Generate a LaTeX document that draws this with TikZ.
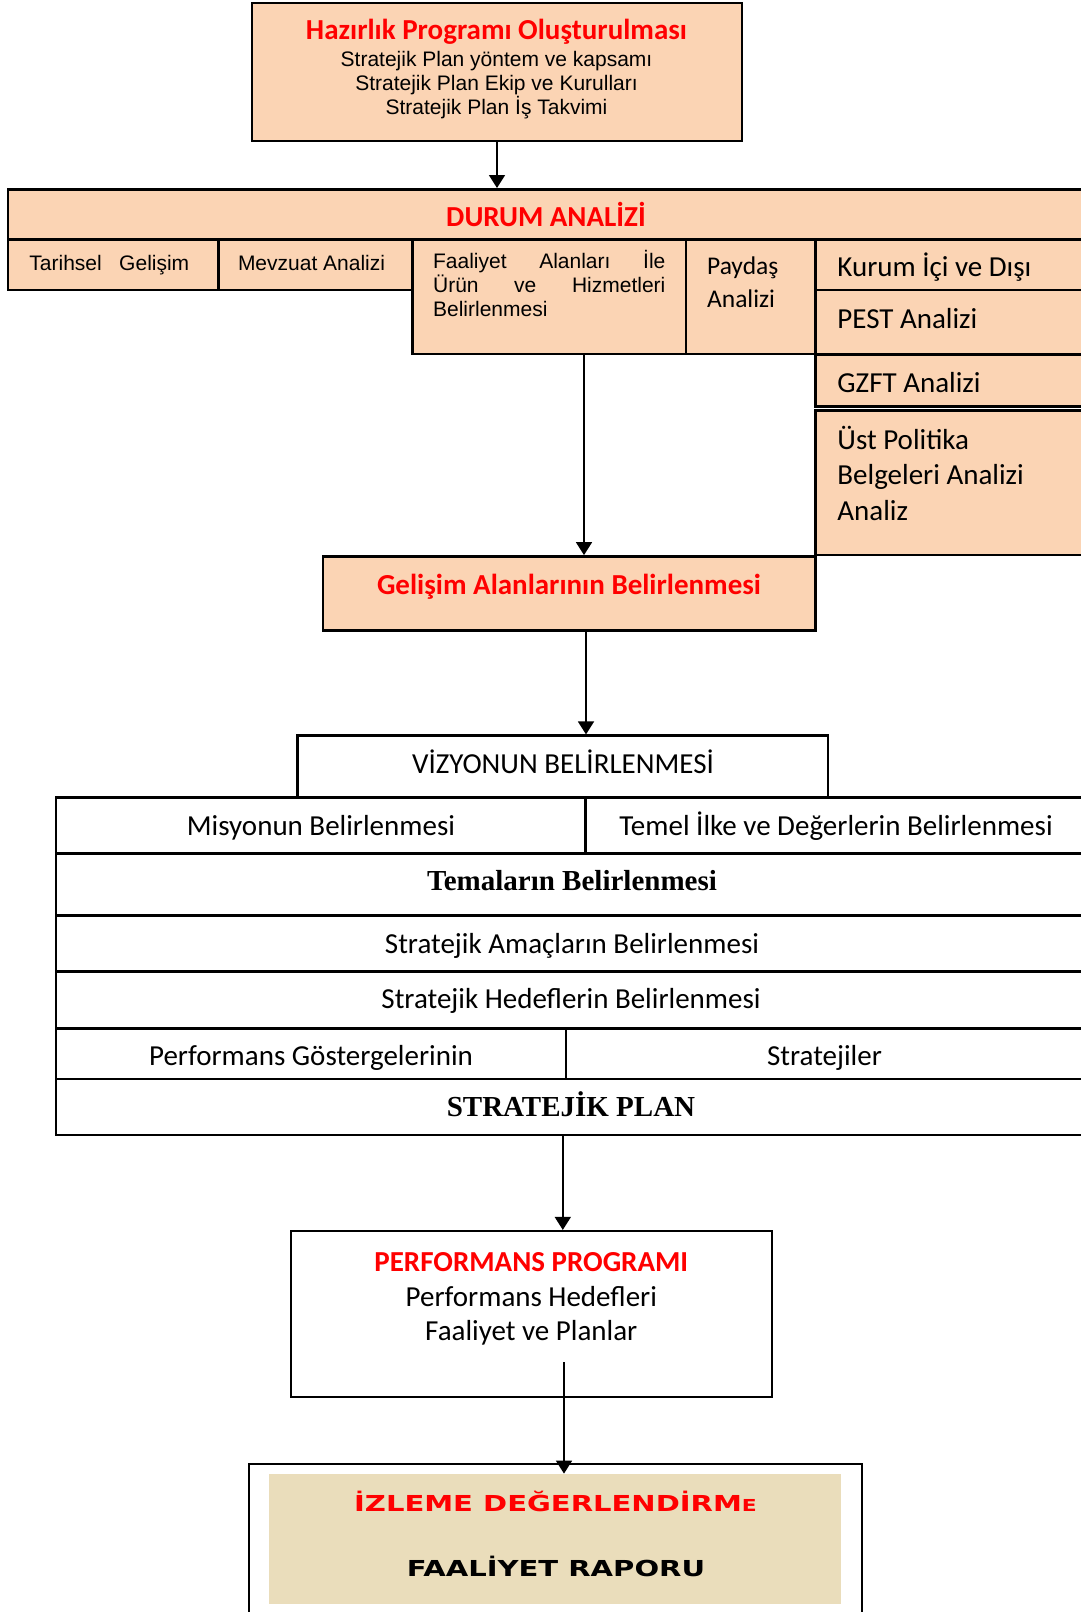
\documentclass[tikz,border=0pt]{standalone}
\usepackage{fontspec}
\setmainfont{Carlito}
\newfontfamily\arialf{Liberation Sans}
\newfontfamily\timesf{Liberation Serif}
\newfontfamily\widef[FakeStretch=1.32]{DejaVu Sans}
\usetikzlibrary{positioning,fit,arrows.meta}
\definecolor{peach}{RGB}{251,212,180}
\definecolor{parch}{RGB}{234,221,187}
\definecolor{hred}{RGB}{255,0,0}
\newcommand{\calf}{\normalfont\fontsize{14.5}{17}\selectfont}
\newcommand{\arf}{\arialf\fontsize{10.5}{12.1}\selectfont}
\newcommand{\serf}{\timesf\bfseries\fontsize{14.5}{17}\selectfont}
\newcommand{\widbf}{\widef\bfseries\fontsize{11}{13}\selectfont}

\tikzset{
  pcell/.style={draw, fill=peach, line width=1.3pt, inner sep=0pt},
  wcell/.style={draw, fill=white, line width=1.3pt, inner sep=0pt},
  txt/.style={inner sep=0pt, anchor=base, font=\calf},
  txtl/.style={inner sep=0pt, anchor=base west, font=\calf},
  head/.style={txt, text=hred, font=\calf\bfseries},
  arr/.style={-{Triangle[width=8pt,length=6.5pt]}, line width=0.85pt}
}

\begin{document}
\begin{tikzpicture}[x=0.5pt,y=-0.5pt]
  \useasboundingbox (0,0) rectangle (1081,1612);

  % hazirlik programi
  \node[pcell, line width=1pt, fit={(252,3) (742,141)}] (hazirlik) {};
  \node[txt, font=\arialf\fontsize{10.5}{11.85}\selectfont, text width=230pt, align=flush center] (hazirliktxt) at (496.5,39.3)
    {{\calf\bfseries\color{hred}Hazırlık Programı Oluşturulması}\\[1.85pt]
     Stratejik Plan yöntem ve kapsamı\\
     Stratejik Plan Ekip ve Kurulları\\
     Stratejik Plan İş Takvimi};

  % durum analizi
  \node[pcell, fit={(8,189.3) (1086,239.3)}] (durum) {};
  \node[head] (durumtxt) at (546,226.7) {DURUM ANALİZİ};
  \node[pcell, fit={(8,239.3) (218.5,290)}] (tarihsel) {};
  \node[pcell, fit={(218.5,239.3) (412.3,290)}] (mevzuat) {};
  \node[pcell, fit={(412.3,239.3) (686,354)}] (faaliyet) {};
  \node[pcell, fit={(686,239.3) (815.6,354)}] (paydas) {};
  \node[pcell, fit={(815.6,239.3) (1086,290)}] (kurum) {};
  \node[pcell, fit={(815.6,290) (1086,354.7)}] (pest) {};
  \node[pcell, fit={(815.6,354.7) (1086,406.7)}] (gzft) {};
  \node[pcell, fit={(815.6,410.7) (1086,555)}] (ust) {};

  \node[txtl, font=\arf] (tarihseltxt) at (29,270) {Tarihsel\ \ \ Gelişim};
  \node[txtl, font=\arf] (mevzuattxt) at (237.6,270) {Mevzuat Analizi};
  \node[txtl, font=\arf, text width=116.15pt, align=flush left] (faaliyettxt) at (432.7,268.3)
    {\leavevmode\hbox to 116.15pt{Faaliyet\hfill Alanları\hfill İle}\\
     \leavevmode\hbox to 116.15pt{Ürün\hfill ve\hfill Hizmetleri}\\
     Belirlenmesi};
  \node[txtl, font=\normalfont\fontsize{12.75}{16.7}\selectfont, text width=50pt, align=flush left] (paydastxt) at (706.7,274.3)
    {Paydaş\\ Analizi};
  \node[txtl] (kurumtxt) at (837,276.7) {Kurum İçi ve Dışı};
  \node[txtl] (pesttxt) at (837,328.3) {PEST Analizi};
  \node[txtl] (gzfttxt) at (837,392.7) {GZFT Analizi};
  \node[txtl, font=\normalfont\fontsize{14.5}{17.75}\selectfont, text width=120pt, align=flush left] (usttxt) at (837,449)
    {Üst Politika\\ Belgeleri Analizi\\ Analiz};

  % gelisim alanlari
  \node[pcell, fit={(323,556.4) (815.6,630.5)}] (gelisim) {};
  \node[head] (gelisimtxt) at (569,594.3) {Gelişim Alanlarının Belirlenmesi};

  % stratejik plan tablosu
  \node[wcell, fit={(297.6,735.7) (828,797.3)}] (vizyon) {};
  \node[wcell, fit={(55.9,797.3) (585.7,853.3)}] (misyon) {};
  \node[wcell, fit={(585.7,797.3) (1086,853.3)}] (temel) {};
  \node[wcell, fit={(55.9,853.3) (1086,915.7)}] (temalar) {};
  \node[wcell, fit={(55.9,915.7) (1086,971.7)}] (amaclar) {};
  \node[wcell, fit={(55.9,971.7) (1086,1028.3)}] (hedefler) {};
  \node[wcell, fit={(55.9,1028.3) (565.8,1079)}] (gosterge) {};
  \node[wcell, fit={(565.8,1028.3) (1086,1079)}] (stratejiler) {};
  \node[wcell, fit={(55.9,1079) (1086,1135)}] (plan) {};

  \node[txt] (vizyontxt) at (563,773.3) {VİZYONUN BELİRLENMESİ};
  \node[txt] (misyontxt) at (321,835) {Misyonun Belirlenmesi};
  \node[txt] (temeltxt) at (836,835) {Temel İlke ve Değerlerin Belirlenmesi};
  \node[txt, font=\serf] (temalartxt) at (572,890) {Temaların Belirlenmesi};
  \node[txt] (amaclartxt) at (572,953) {Stratejik Amaçların Belirlenmesi};
  \node[txt] (hedeflertxt) at (571,1008) {Stratejik Hedeflerin Belirlenmesi};
  \node[txt] (gostergetxt) at (311,1065) {Performans Göstergelerinin};
  \node[txt] (stratejilertxt) at (824.5,1065) {Stratejiler};
  \node[txt, font=\serf] (plantxt) at (571,1116.7) {STRATEJİK PLAN};

  % performans programi
  \node[wcell, line width=1.1pt, fit={(291,1231) (772.3,1396.7)}] (perf) {};
  \node[txt, font=\normalfont\fontsize{14.5}{17.2}\selectfont, text width=220pt, align=flush center] (perftxt) at (531.3,1271.7)
    {{\bfseries\color{hred}PERFORMANS PROGRAMI}\\
     Performans Hedefleri\\
     Faaliyet ve Planlar};

  % izleme
  \node[wcell, line width=1pt, fit={(248.8,1464) (862,1625)}] (izlemeframe) {};
  \node[fill=parch, inner sep=0pt, fit={(269,1474) (841.4,1604)}] (izlemebg) {};
  \node[txt, font=\widbf, text=hred] (izlemetxt) at (555.5,1511) {İZLEME DEĞERLENDİRM{\fontsize{8.25}{10}\selectfont E}};
  \node[txt, font=\widbf] (raportxt) at (556,1576) {FAALİYET RAPORU};

  % oklar
  \coordinate (ax2) at (584,0);
  \coordinate (ax3) at (586,0);
  \coordinate (ax5) at (564,1362.3);
  \draw[arr] (hazirlik.south) -- (hazirlik.south |- durum.north);
  \draw[arr] (faaliyet.south -| ax2) -- (gelisim.north -| ax2);
  \draw[arr] (gelisim.south -| ax3) -- (vizyon.north -| ax3);
  \draw[arr] (plan.south -| vizyon.south) -- (perf.north -| vizyon.south);
  \draw[arr] (ax5) -- (ax5 |- izlemebg.north);
\end{tikzpicture}
\end{document}
